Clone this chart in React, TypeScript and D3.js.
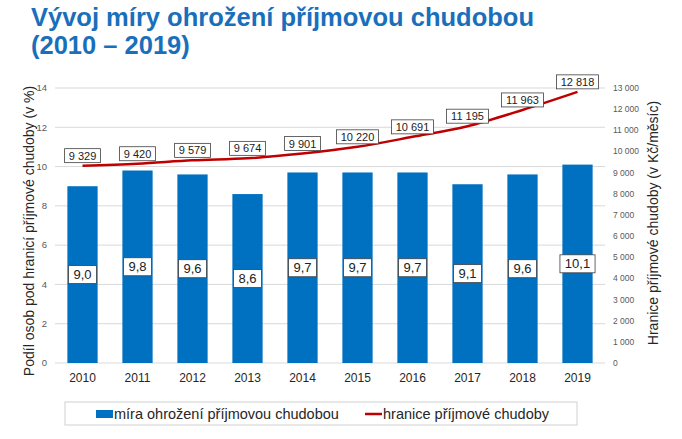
import React from "react";
import * as d3 from "d3";

const years = ["2010", "2011", "2012", "2013", "2014", "2015", "2016", "2017", "2018", "2019"];
const rates = [9.0, 9.8, 9.6, 8.6, 9.7, 9.7, 9.7, 9.1, 9.6, 10.1];
const thresholds = [9329, 9420, 9579, 9674, 9901, 10220, 10691, 11195, 11963, 12818];
const leftTicks = [0, 2, 4, 6, 8, 10, 12, 14];
const rightTicks = d3.range(0, 13001, 1000);

const cz = d3.formatLocale({ decimal: ",", thousands: "\u00a0", grouping: [3], currency: ["", ""] });
const fmtInt = cz.format(",d");
const fmtRate = cz.format(".1f");

const W = 682;
const H = 439;
const plot = { left: 55, right: 605, top: 88, bottom: 363 };
const BLUE = "#0070c0";
const RED = "#c00000";
const FONT = "Liberation Sans, Arial, sans-serif";

export default function App() {
  const x = d3.scaleBand<string>().domain(years).range([plot.left, plot.right]).paddingInner(0.45).paddingOuter(0.225);
  const yL = d3.scaleLinear().domain([0, 14]).range([plot.bottom, plot.top]);
  const yR = d3.scaleLinear().domain([0, 13000]).range([plot.bottom, plot.top]);
  const cx = (i: number) => (x(years[i]) as number) + x.bandwidth() / 2;

  const line = d3
    .line<number>()
    .x((_, i) => cx(i))
    .y((d) => yR(d))
    .curve(d3.curveMonotoneX);

  const boxW = (s: string, fs: number) => s.length * fs * 0.56 + 5;

  return (
    <div style={{ position: "absolute", left: 0, top: 0 }}>
      <svg width={W} height={H} style={{ display: "block", fontFamily: FONT }}>
        <rect width={W} height={H} fill="#fff" />
        <text x={31} y={26} fontSize={25.5} fontWeight="bold" fill="#1a6fbb">
          Vývoj míry ohrožení příjmovou chudobou
        </text>
        <text x={31} y={54} fontSize={25.5} fontWeight="bold" fill="#1a6fbb">
          (2010 – 2019)
        </text>

        {leftTicks.map((t) => (
          <g key={t}>
            <line x1={plot.left} x2={plot.right} y1={yL(t)} y2={yL(t)} stroke="#d9d9d9" strokeWidth={1} />
            <text x={47} y={yL(t)} dy="0.35em" textAnchor="end" fontSize={9.5} fill="#595959">
              {t}
            </text>
          </g>
        ))}
        {rightTicks.map((t) => (
          <text key={t} x={613} y={yR(t)} dy="0.35em" fontSize={8.5} fill="#595959">
            {fmtInt(t)}
          </text>
        ))}

        {rates.map((v, i) => (
          <rect
            key={years[i]}
            x={x(years[i])}
            y={yL(v)}
            width={x.bandwidth()}
            height={yL(0) - yL(v)}
            fill={BLUE}
          />
        ))}
        {rates.map((v, i) => {
          const s = fmtRate(v);
          const w = boxW(s, 13) + 1;
          const my = (yL(v) + yL(0)) / 2;
          return (
            <g key={"l" + i}>
              <rect x={cx(i) - w / 2} y={my - 9} width={w} height={18} fill="#fff" stroke="#404040" strokeWidth={0.8} />
              <text x={cx(i)} y={my} dy="0.36em" textAnchor="middle" fontSize={13} fill="#222">
                {s}
              </text>
            </g>
          );
        })}

        <path d={line(thresholds) ?? ""} fill="none" stroke={RED} strokeWidth={2.5} />
        {thresholds.map((v, i) => {
          const s = fmtInt(v);
          const w = boxW(s, 11);
          const my = yR(v) - 10;
          return (
            <g key={"t" + i}>
              <rect x={cx(i) - w / 2} y={my - 7} width={w} height={14} fill="#fff" stroke="#404040" strokeWidth={0.8} />
              <text x={cx(i)} y={my} dy="0.36em" textAnchor="middle" fontSize={11} fill="#222">
                {s}
              </text>
            </g>
          );
        })}

        {years.map((yr, i) => (
          <text key={yr} x={cx(i)} y={382} textAnchor="middle" fontSize={12} fill="#262626">
            {yr}
          </text>
        ))}

        <text transform={`translate(34,231) rotate(-90)`} textAnchor="middle" fontSize={14} fill="#262626">
          Podíl osob pod hranicí příjmové chudoby (v %)
        </text>
        <text transform={`translate(658,223) rotate(-90)`} textAnchor="middle" fontSize={14} fill="#262626">
          Hranice příjmové chudoby (v Kč/měsíc)
        </text>

        <rect x={65} y={402} width={512} height={23} fill="#fff" stroke="#d0d0d0" strokeWidth={1} />
        <rect x={96} y={410} width={17} height={8} fill={BLUE} />
        <text x={114} y={418.5} fontSize={14.5} fill="#262626">
          míra ohrožení příjmovou chudobou
        </text>
        <line x1={365} x2={382} y1={414} y2={414} stroke={RED} strokeWidth={2.5} />
        <text x={383} y={418.5} fontSize={14.5} fill="#262626">
          hranice příjmové chudoby
        </text>
      </svg>
    </div>
  );
}
